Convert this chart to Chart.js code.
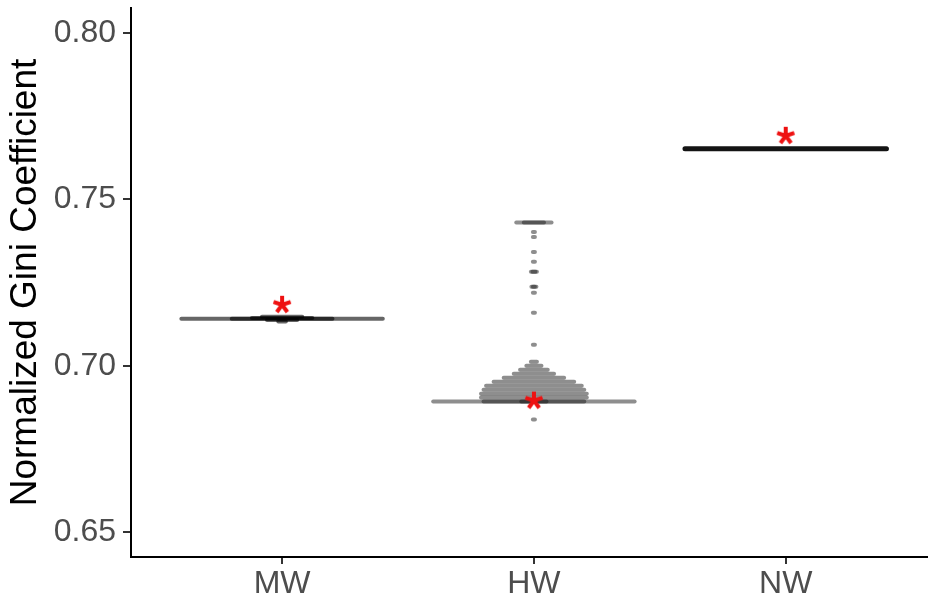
<!DOCTYPE html>
<html>
<head>
<meta charset="utf-8">
<script src="https://cdn.jsdelivr.net/npm/chart.js@4.4.1/dist/chart.umd.min.js"></script>
<style>
  html, body { margin: 0; padding: 0; background: #fff; }
  canvas { display: block; }
</style>
</head>
<body>
<canvas id="giniChart" width="928" height="610"></canvas>
<script>
// groups on the x axis
const categories = ['MW', 'HW', 'NW'];
const yTicks = [0.65, 0.70, 0.75, 0.80];

// null-model swarms: each row is [gini value, half width of the swarm row in category units]
const mwRows = [
  [0.7141, 0.40],
  [0.7141, 0.20],
  [0.7143, 0.12],
  [0.7147, 0.08],
  [0.7137, 0.06],
  [0.7133, 0.015]
];
const hwRows = [
  [0.6892, 0.40],
  [0.6892, 0.20],
  [0.6892, 0.05],
  [0.6904, 0.21],
  [0.6916, 0.21],
  [0.6928, 0.20],
  [0.6940, 0.19],
  [0.6952, 0.16],
  [0.6964, 0.12],
  [0.6976, 0.08],
  [0.6988, 0.055],
  [0.7000, 0.03],
  [0.7012, 0.012],
  [0.6838, 0.004],
  [0.7063, 0.004],
  [0.7159, 0.004],
  [0.7219, 0.004],
  [0.7237, 0.010],
  [0.7237, 0.004],
  [0.7282, 0.012],
  [0.7282, 0.006],
  [0.7312, 0.004],
  [0.7342, 0.004],
  [0.7387, 0.004],
  [0.7402, 0.004],
  [0.7430, 0.07],
  [0.7430, 0.04]
];
const nwRows = [
  [0.7652, 0.40]
];
// observed value per group (red asterisk)
const observed = [0.7183, 0.6895, 0.7691];

const groupRows = [mwRows, hwRows, nwRows];
const groupColors = ['rgba(0,0,0,0.6)', 'rgba(30,30,30,0.5)', 'rgba(0,0,0,0.92)'];
const groupWidths = [4, 4, 5];

// five spoke asterisk used as the point style
function makeAsterisk(r, color) {
  const c = document.createElement('canvas');
  c.width = c.height = 2 * r + 6;
  const ctx = c.getContext('2d');
  ctx.translate(r + 3, r + 3);
  ctx.strokeStyle = color;
  ctx.lineWidth = 4;
  ctx.beginPath();
  for (let k = 0; k < 5; k++) {
    const a = -Math.PI / 2 + k * 2 * Math.PI / 5;
    ctx.moveTo(0, 0);
    ctx.lineTo(r * Math.cos(a), r * Math.sin(a));
  }
  ctx.stroke();
  return c;
}

const datasets = [];
groupRows.forEach((rows, g) => {
  const xc = g + 1;
  rows.forEach(([v, w]) => {
    datasets.push({
      data: [{ x: xc - w, y: v }, { x: xc + w, y: v }],
      showLine: true,
      borderColor: groupColors[g],
      borderWidth: groupWidths[g],
      borderCapStyle: 'round',
      pointRadius: 0
    });
  });
});

// drawn on top of the swarms
datasets.push({
  data: observed.map((v, i) => ({ x: i + 1, y: v })),
  showLine: false,
  pointStyle: makeAsterisk(9, '#ee1111'),
  pointRadius: 10,
  order: -1
});

new Chart(document.getElementById('giniChart'), {
  type: 'scatter',
  data: { datasets: datasets },
  options: {
    responsive: false,
    animation: false,
    layout: { autoPadding: false, padding: { top: 8, right: 0, left: 0, bottom: 0 } },
    plugins: { legend: { display: false }, tooltip: { enabled: false } },
    scales: {
      x: {
        type: 'linear',
        min: 0.4,
        max: 3.565,
        afterBuildTicks: (scale) => {
          scale.ticks = categories.map((c, i) => ({ value: i + 1 }));
        },
        afterFit: (scale) => {
          scale.height = 53;
          scale.paddingLeft = 0;
          scale.paddingRight = 0;
        },
        ticks: {
          callback: (value) => categories[value - 1],
          color: '#4d4d4d',
          font: { family: 'Liberation Sans, Arial, sans-serif', size: 32 },
          padding: 1,
          maxRotation: 0
        },
        grid: { drawOnChartArea: false, drawTicks: true, tickLength: 7, color: '#333', lineWidth: 2 },
        border: { color: '#000', width: 2 }
      },
      y: {
        min: 0.6425,
        max: 0.8075,
        afterBuildTicks: (scale) => {
          scale.ticks = yTicks.map((v) => ({ value: v }));
        },
        afterFit: (scale) => {
          scale.width = 131;
          scale.paddingTop = 0;
          scale.paddingBottom = 0;
        },
        ticks: {
          callback: (value) => value.toFixed(2),
          color: '#4d4d4d',
          font: { family: 'Liberation Sans, Arial, sans-serif', size: 32 },
          padding: 7
        },
        grid: { drawOnChartArea: false, drawTicks: true, tickLength: 8, color: '#333', lineWidth: 2 },
        border: { color: '#000', width: 2 },
        title: {
          display: true,
          text: 'Normalized Gini Coefficient',
          color: '#000',
          font: { family: 'Liberation Sans, Arial, sans-serif', size: 37 },
          padding: { top: 4, bottom: 0 }
        }
      }
    }
  }
});
</script>
</body>
</html>
